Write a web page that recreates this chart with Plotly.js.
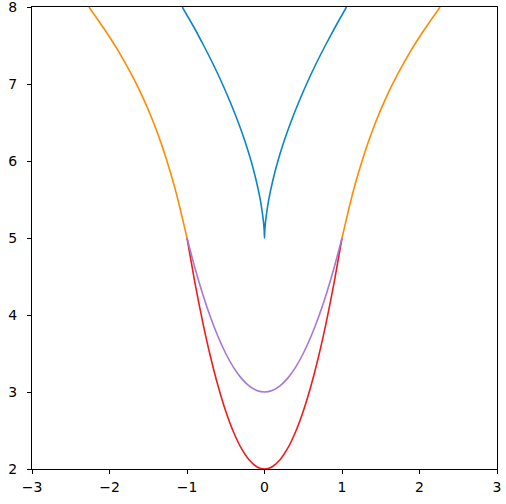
<!DOCTYPE html>
<html>
<head>
<meta charset="utf-8">
<script src="https://cdn.plot.ly/plotly-3.0.1.min.js"></script>
<style>html,body{margin:0;padding:0;background:#fff}#chart{width:506px;height:504px}</style>
</head>
<body>
<div id="chart"></div>
<script>
// Blue cusp curve
const blueX = [-1.061, -0.918, -0.785, -0.659, -0.543, -0.436, -0.338, -0.250, -0.173, -0.108, -0.055, -0.031, -0.012, -0.004, 0,
               0.004, 0.012, 0.031, 0.055, 0.108, 0.173, 0.250, 0.338, 0.436, 0.543, 0.659, 0.785, 0.918, 1.058];
const blueY = [8.0, 7.75, 7.5, 7.25, 7.0, 6.75, 6.5, 6.25, 6.0, 5.75, 5.5, 5.35, 5.2, 5.1, 5.0,
               5.1, 5.2, 5.35, 5.5, 5.75, 6.0, 6.25, 6.5, 6.75, 7.0, 7.25, 7.5, 7.75, 8.0];
// Orange branches
const orangeLeftX = [-2.266, -2.059, -1.881, -1.713, -1.564, -1.436, -1.326, -1.230, -1.155, -1.090, -1.044, -1.0];
const orangeLeftY = [8.0, 7.701, 7.420, 7.117, 6.814, 6.510, 6.208, 5.905, 5.645, 5.386, 5.19, 5.0];
const orangeRightX = [1.0, 1.044, 1.090, 1.155, 1.230, 1.326, 1.436, 1.564, 1.713, 1.881, 2.059, 2.266];
const orangeRightY = [5.0, 5.19, 5.386, 5.645, 5.905, 6.208, 6.510, 6.814, 7.117, 7.420, 7.701, 8.0];
// Inner curves
const innerX = [-1.0, -0.9, -0.8, -0.7, -0.6, -0.5, -0.4, -0.3, -0.2, -0.1, 0, 0.1, 0.2, 0.3, 0.4, 0.5, 0.6, 0.7, 0.8, 0.9, 1.0];
const redY = [5.0, 4.43, 3.92, 3.47, 3.08, 2.75, 2.48, 2.27, 2.12, 2.03, 2.0, 2.03, 2.12, 2.27, 2.48, 2.75, 3.08, 3.47, 3.92, 4.43, 5.0];
const purpleY = [5.0, 4.62, 4.28, 3.98, 3.72, 3.5, 3.32, 3.18, 3.08, 3.02, 3.0, 3.02, 3.08, 3.18, 3.32, 3.5, 3.72, 3.98, 4.28, 4.62, 5.0];

const lw = 1.6;
const sp = {shape: 'spline', smoothing: 0.6};
const traces = [
  {x: innerX, y: redY, mode: 'lines', line: Object.assign({color: '#ee1d1d', width: lw}, sp)},
  {x: innerX, y: purpleY, mode: 'lines', line: Object.assign({color: '#a977d4', width: lw}, sp)},
  {x: orangeLeftX, y: orangeLeftY, mode: 'lines', line: Object.assign({color: '#ff8c00', width: lw}, sp)},
  {x: orangeRightX, y: orangeRightY, mode: 'lines', line: Object.assign({color: '#ff8c00', width: lw}, sp)},
  {x: blueX, y: blueY, mode: 'lines', line: Object.assign({color: '#0a86c8', width: lw}, sp)}
];

const axisCommon = {
  showgrid: false, zeroline: false, showline: true, mirror: true,
  linecolor: '#000', linewidth: 1, ticks: 'outside', ticklen: 4, tickcolor: '#000',
  ticklabeloverflow: 'allow',
  tickfont: {family: 'DejaVu Sans', size: 14, color: '#000'}, dtick: 1
};
const layout = {
  width: 506, height: 504, showlegend: false,
  margin: {l: 32, r: 9, t: 7, b: 35},
  paper_bgcolor: '#fff', plot_bgcolor: '#fff',
  xaxis: Object.assign({range: [-3, 3], tick0: -3, ticklabelstandoff: 1}, axisCommon),
  yaxis: Object.assign({range: [2, 8], tick0: 2, ticklabelstandoff: 7}, axisCommon)
};
Plotly.newPlot('chart', traces, layout, {displayModeBar: false, staticPlot: true});
</script>
</body>
</html>
